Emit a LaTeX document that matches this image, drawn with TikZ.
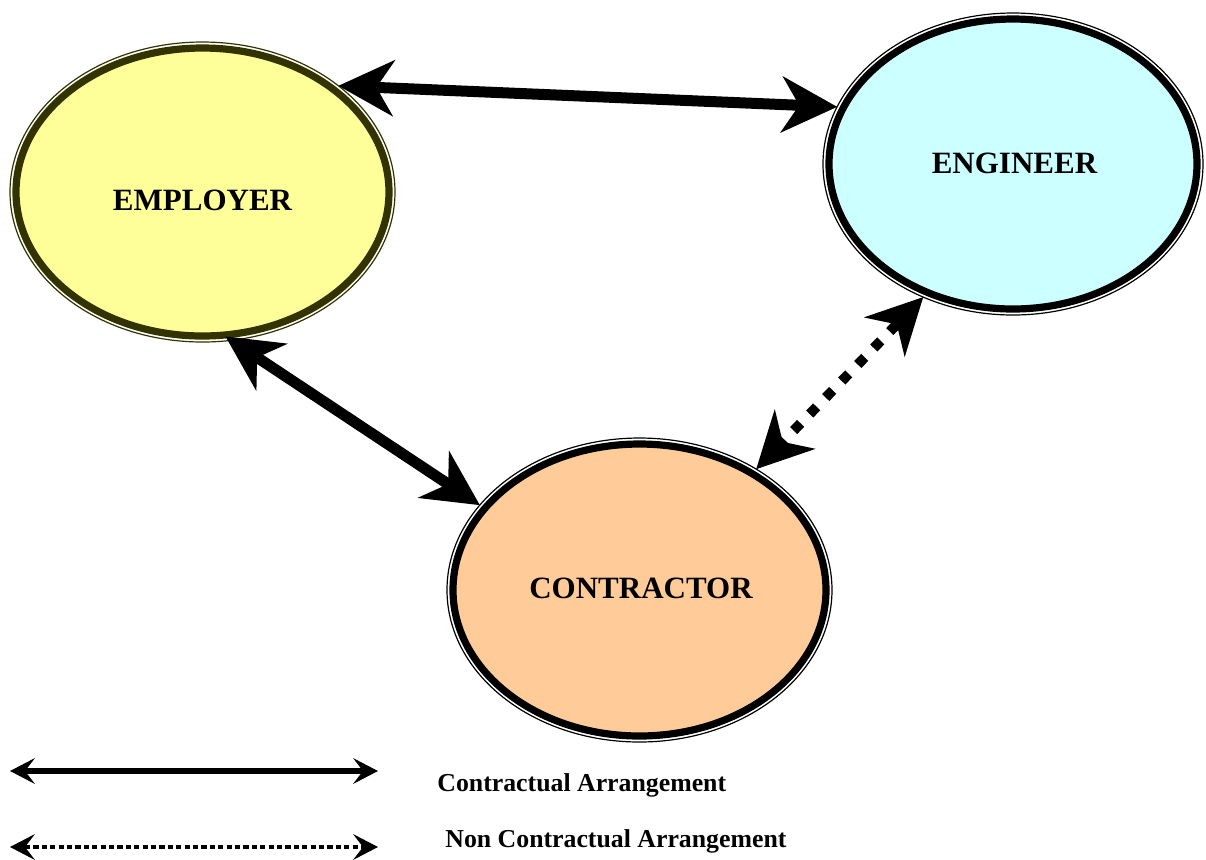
\documentclass[tikz,border=0pt]{standalone}
\usepackage{fontspec}
\setmainfont{Liberation Serif}
\usetikzlibrary{arrows.meta,shapes.geometric}

\definecolor{empfill}{HTML}{FFFF99}
\definecolor{empline}{HTML}{333300}
\definecolor{engfill}{HTML}{CCFFFF}
\definecolor{confill}{HTML}{FFCC99}

\tikzset{
  % party: outer hairline ellipse, white gap, thick inner ring with coloured fill
  % #1,#2 outer size; #3 fill; #4 line colour; #5,#6 inner ring radii
  party/.style n args={6}{ellipse, inner sep=0pt, outer sep=0pt,
    minimum width=#1pt, minimum height=#2pt,
    draw=#4, line width=0.6pt, fill=white,
    path picture={\draw[draw=#4, line width=3.6pt, fill=#3]
      (path picture bounding box.center) ellipse [x radius=#5pt, y radius=#6pt];}},
  partyname/.style={font=\bfseries\fontsize{15.5}{18}\selectfont, anchor=base, inner sep=0pt},
  legendtext/.style={font=\bfseries\fontsize{12.9}{15}\selectfont, anchor=base west, inner sep=0pt},
  bigtips/.style={arrows={Stealth[length=28pt,width=28.5pt,inset=9pt,line width=0pt]-Stealth[length=28pt,width=28.5pt,inset=9pt,line width=0pt]}},
  smalltips/.style={arrows={Stealth[length=12.5pt,width=13pt,inset=5pt,line width=0pt]-Stealth[length=12.5pt,width=13pt,inset=5pt,line width=0pt]}},
  contract/.style={bigtips, line width=5.5pt},
  noncontract/.style={bigtips, line width=5pt, line cap=butt, dash pattern=on 5pt off 6.5pt},
  legendsolid/.style={smalltips, line width=2.6pt},
  legenddotted/.style={smalltips, line width=2.4pt, line cap=butt, dash pattern=on 2.6pt off 1.6pt},
}

\begin{document}
\begin{tikzpicture}[x=0.5pt, y=-0.5pt]
  \useasboundingbox (0,0) rectangle (1206,859);

  % the three parties
  \node[party={192.5}{150}{empfill}{empline}{93.25}{72}] (emp) at (202.5,192) {};
  \node[party={190}{151}{engfill}{black}{92}{72.5}] (eng) at (1013,164) {};
  \node[party={192.5}{152}{confill}{black}{93.25}{73}] (con) at (639.5,590) {};

  \node[partyname] (empname) at (202.5,210) {EMPLOYER};
  \node[partyname] (engname) at (1014.5,173) {ENGINEER};
  \node[partyname] (conname) at (641,598) {CONTRACTOR};

  % relationships
  \draw[contract] (emp.38.3) -- (eng.162.4);
  \draw[contract, shorten <=-3.5pt] (emp.-79) -- (con.152.9);
  \draw[noncontract] (eng.-124.2) -- (con.46.1);

  % key
  \coordinate (solidA) at (10,771);
  \coordinate (solidB) at (378,771);
  \coordinate (dotA) at (10,847);
  \coordinate (dotB) at (378,847);
  \draw[legendsolid] (solidA) -- (solidB);
  \draw[legenddotted] (dotA) -- (dotB);
  \node[legendtext] (keysolid) at (437,791) {Contractual Arrangement};
  \node[legendtext] (keydotted) at (445,847) {Non Contractual Arrangement};
\end{tikzpicture}
\end{document}
